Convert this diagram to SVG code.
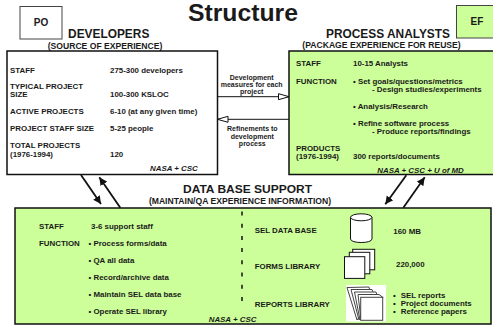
<svg xmlns="http://www.w3.org/2000/svg" width="493" height="326" viewBox="0 0 493 326">
<style>
text{font-family:"Liberation Sans",Arial,sans-serif;font-weight:bold;fill:#1a1a1a}
.s{font-size:7.9px}
.h{font-size:11.9px;text-anchor:middle}
.u{font-size:8.6px;text-anchor:middle}
.i{font-size:7.9px;font-style:italic}
.m{font-size:7px;text-anchor:middle}
.g{fill:#ccff99;stroke:#111;stroke-width:1.5}
.w{fill:#fff;stroke:#111;stroke-width:1}
.p{fill:#fff;stroke:#444;stroke-width:1}
.a{stroke:#111;stroke-width:1.8;fill:none}
.o{stroke:#111;stroke-width:1;fill:none}
</style>
<defs>
<marker id="op" markerWidth="12" markerHeight="8" refX="11" refY="4" orient="auto" markerUnits="userSpaceOnUse"><path d="M.5 1L11 4L.5 7Z" fill="#fff" stroke="#111" stroke-width="1"/></marker>
<marker id="so" markerWidth="9" markerHeight="9" refX="8" refY="4.500" orient="auto" markerUnits="userSpaceOnUse"><path d="M0 .5L8 4.500L0 8.500Z" fill="#111"/></marker>
</defs>
<rect width="493" height="326" fill="#fff"/>
<text x="243" y="21" text-anchor="middle" textLength="110" lengthAdjust="spacingAndGlyphs" style="font-size:23px">Structure</text>
<g id="po"><rect x="20" y="6.500" width="42" height="32.500" fill="#fff" stroke="#444"/><text x="41" y="25.700" text-anchor="middle" style="font-size:10px">PO</text></g>
<g id="ef"><rect x="456.500" y="5.500" width="41" height="32.500" fill="#ccff99" stroke="#444"/><text x="477" y="25" text-anchor="middle" style="font-size:10px">EF</text></g>
<g id="developers">
<text x="108.700" y="38" class="h">DEVELOPERS</text>
<text x="105" y="48.500" class="u">(SOURCE OF EXPERIENCE)</text>
<rect x="7" y="51" width="210.500" height="123.500" fill="#fff" stroke="#111" stroke-width="1.500"/>
<text x="10" y="72.500" class="s">STAFF</text><text x="110" y="72.500" class="s">275-300 developers</text>
<text x="10" y="88.700" class="s">TYPICAL PROJECT</text><text x="10" y="97.300" class="s">SIZE</text><text x="110" y="97.300" class="s">100-300 KSLOC</text>
<text x="10" y="114.300" class="s">ACTIVE PROJECTS</text><text x="110" y="114.300" class="s">6-10 (at any given time)</text>
<text x="10" y="131" class="s">PROJECT STAFF SIZE</text><text x="110" y="131" class="s">5-25 people</text>
<text x="10" y="147.700" class="s">TOTAL PROJECTS</text><text x="10" y="156.700" class="s">(1976-1994)</text><text x="110" y="156.700" class="s">120</text>
<text x="150" y="170.700" class="i">NASA + CSC</text>
</g>
<g id="analysts">
<text x="388" y="37.500" class="h">PROCESS ANALYSTS</text>
<text x="381.500" y="48" class="u">(PACKAGE EXPERIENCE FOR REUSE)</text>
<rect x="289" y="51" width="210" height="123.500" class="g"/>
<text x="296" y="65.700" class="s">STAFF</text><text x="353" y="65.700" class="s">10-15 Analysts</text>
<text x="296" y="84" class="s">FUNCTION</text>
<text x="353" y="84" class="s">• Set goals/questions/metrics</text>
<text x="372" y="91.700" class="s">- Design studies/experiments</text>
<text x="353" y="108.700" class="s">• Analysis/Research</text>
<text x="353" y="126" class="s">• Refine software process</text>
<text x="372" y="134" class="s">- Produce reports/findings</text>
<text x="296" y="150.700" class="s">PRODUCTS</text><text x="296" y="158.700" class="s">(1976-1994)</text>
<text x="353" y="158.700" class="s">300 reports/documents</text>
<text x="377.300" y="172.700" class="i">NASA + CSC + U of MD</text>
</g>
<g id="support">
<text x="247.500" y="193" text-anchor="middle" textLength="129" lengthAdjust="spacingAndGlyphs" style="font-size:11.700px">DATA BASE SUPPORT</text>
<text x="240" y="203.500" class="u">(MAINTAIN/QA EXPERIENCE INFORMATION)</text>
<rect x="15" y="208" width="476" height="116" class="g"/>
<text x="39" y="229" class="s">STAFF</text><text x="91" y="229" class="s">3-6 support staff</text>
<text x="39" y="246" class="s">FUNCTION</text>
<text x="88.500" y="246" class="s">• Process forms/data</text>
<text x="88.500" y="263" class="s">• QA all data</text>
<text x="88.500" y="280" class="s">• Record/archive data</text>
<text x="88.500" y="297" class="s">• Maintain SEL data base</text>
<text x="88.500" y="314" class="s">• Operate SEL library</text>
<text x="208.700" y="321.700" class="i">NASA + CSC</text>
<line x1="242" y1="211.500" x2="242" y2="301" stroke="#111" stroke-width="1.500" stroke-dasharray="4 8.200"/>
<text x="254.700" y="232.700" class="s">SEL DATA BASE</text><text x="393.300" y="233.700" class="s">160 MB</text>
<text x="254.700" y="268.700" class="s">FORMS LIBRARY</text><text x="396" y="267" class="s">220,000</text>
<text x="254.700" y="306.700" class="s">REPORTS LIBRARY</text>
<text y="298" class="s"><tspan x="393">•</tspan><tspan x="400.700">SEL reports</tspan></text>
<text y="306" class="s"><tspan x="393">•</tspan><tspan x="400.700">Project documents</tspan></text>
<text y="314" class="s"><tspan x="393">•</tspan><tspan x="400.700">Reference papers</tspan></text>
</g>
<g id="icons">
<path d="M350.500 217.300V239C350.500 243.700 372 243.700 372 239V217.300" fill="#fff" stroke="#111"/>
<ellipse cx="361.200" cy="217.300" rx="10.700" ry="3.500" fill="#fff" stroke="#111"/>
<rect x="352.700" y="249.300" width="22" height="20.500" class="w"/><rect x="349.300" y="252.300" width="20.500" height="21.500" class="w"/><rect x="344.500" y="256.700" width="20.300" height="21.700" class="w"/>
<rect x="346" y="285" width="40" height="36.500" fill="#fff"/>
<path d="M347 287.500L369 287L372 300L357 320Z" class="p"/>
<path d="M351 289.500H372L376 300L359 320Z" class="p"/>
<path d="M354.500 292H376L379 300L360 320Z" class="p"/>
<path d="M358 294.500H379L383 297.500L361 320Z" class="p"/>
<rect x="360.700" y="297.300" width="22" height="23" class="p"/>
</g>
<g id="connectors">
<line x1="218" y1="96.700" x2="289" y2="96.700" class="o" marker-end="url(#op)"/>
<line x1="289" y1="119.300" x2="217.500" y2="119.300" class="o" marker-end="url(#op)"/>
<line x1="81" y1="175" x2="101" y2="204" class="a" marker-end="url(#so)"/>
<line x1="120.300" y1="207.700" x2="99.300" y2="177.300" class="a" marker-end="url(#so)"/>
<line x1="406.300" y1="175.300" x2="385.300" y2="204.300" class="a" marker-end="url(#so)"/>
<line x1="403.300" y1="207.700" x2="424.700" y2="177.300" class="a" marker-end="url(#so)"/>
</g>
<g id="connector-labels">
<text x="251.700" y="80" class="m">Development</text><text x="251.700" y="86.700" class="m">measures for each</text><text x="251.700" y="93.700" class="m">project</text>
<text x="252.300" y="130.700" class="m">Refinements to</text><text x="252.300" y="138.700" class="m">development</text><text x="252.300" y="146" class="m">process</text>
</g>
</svg>
